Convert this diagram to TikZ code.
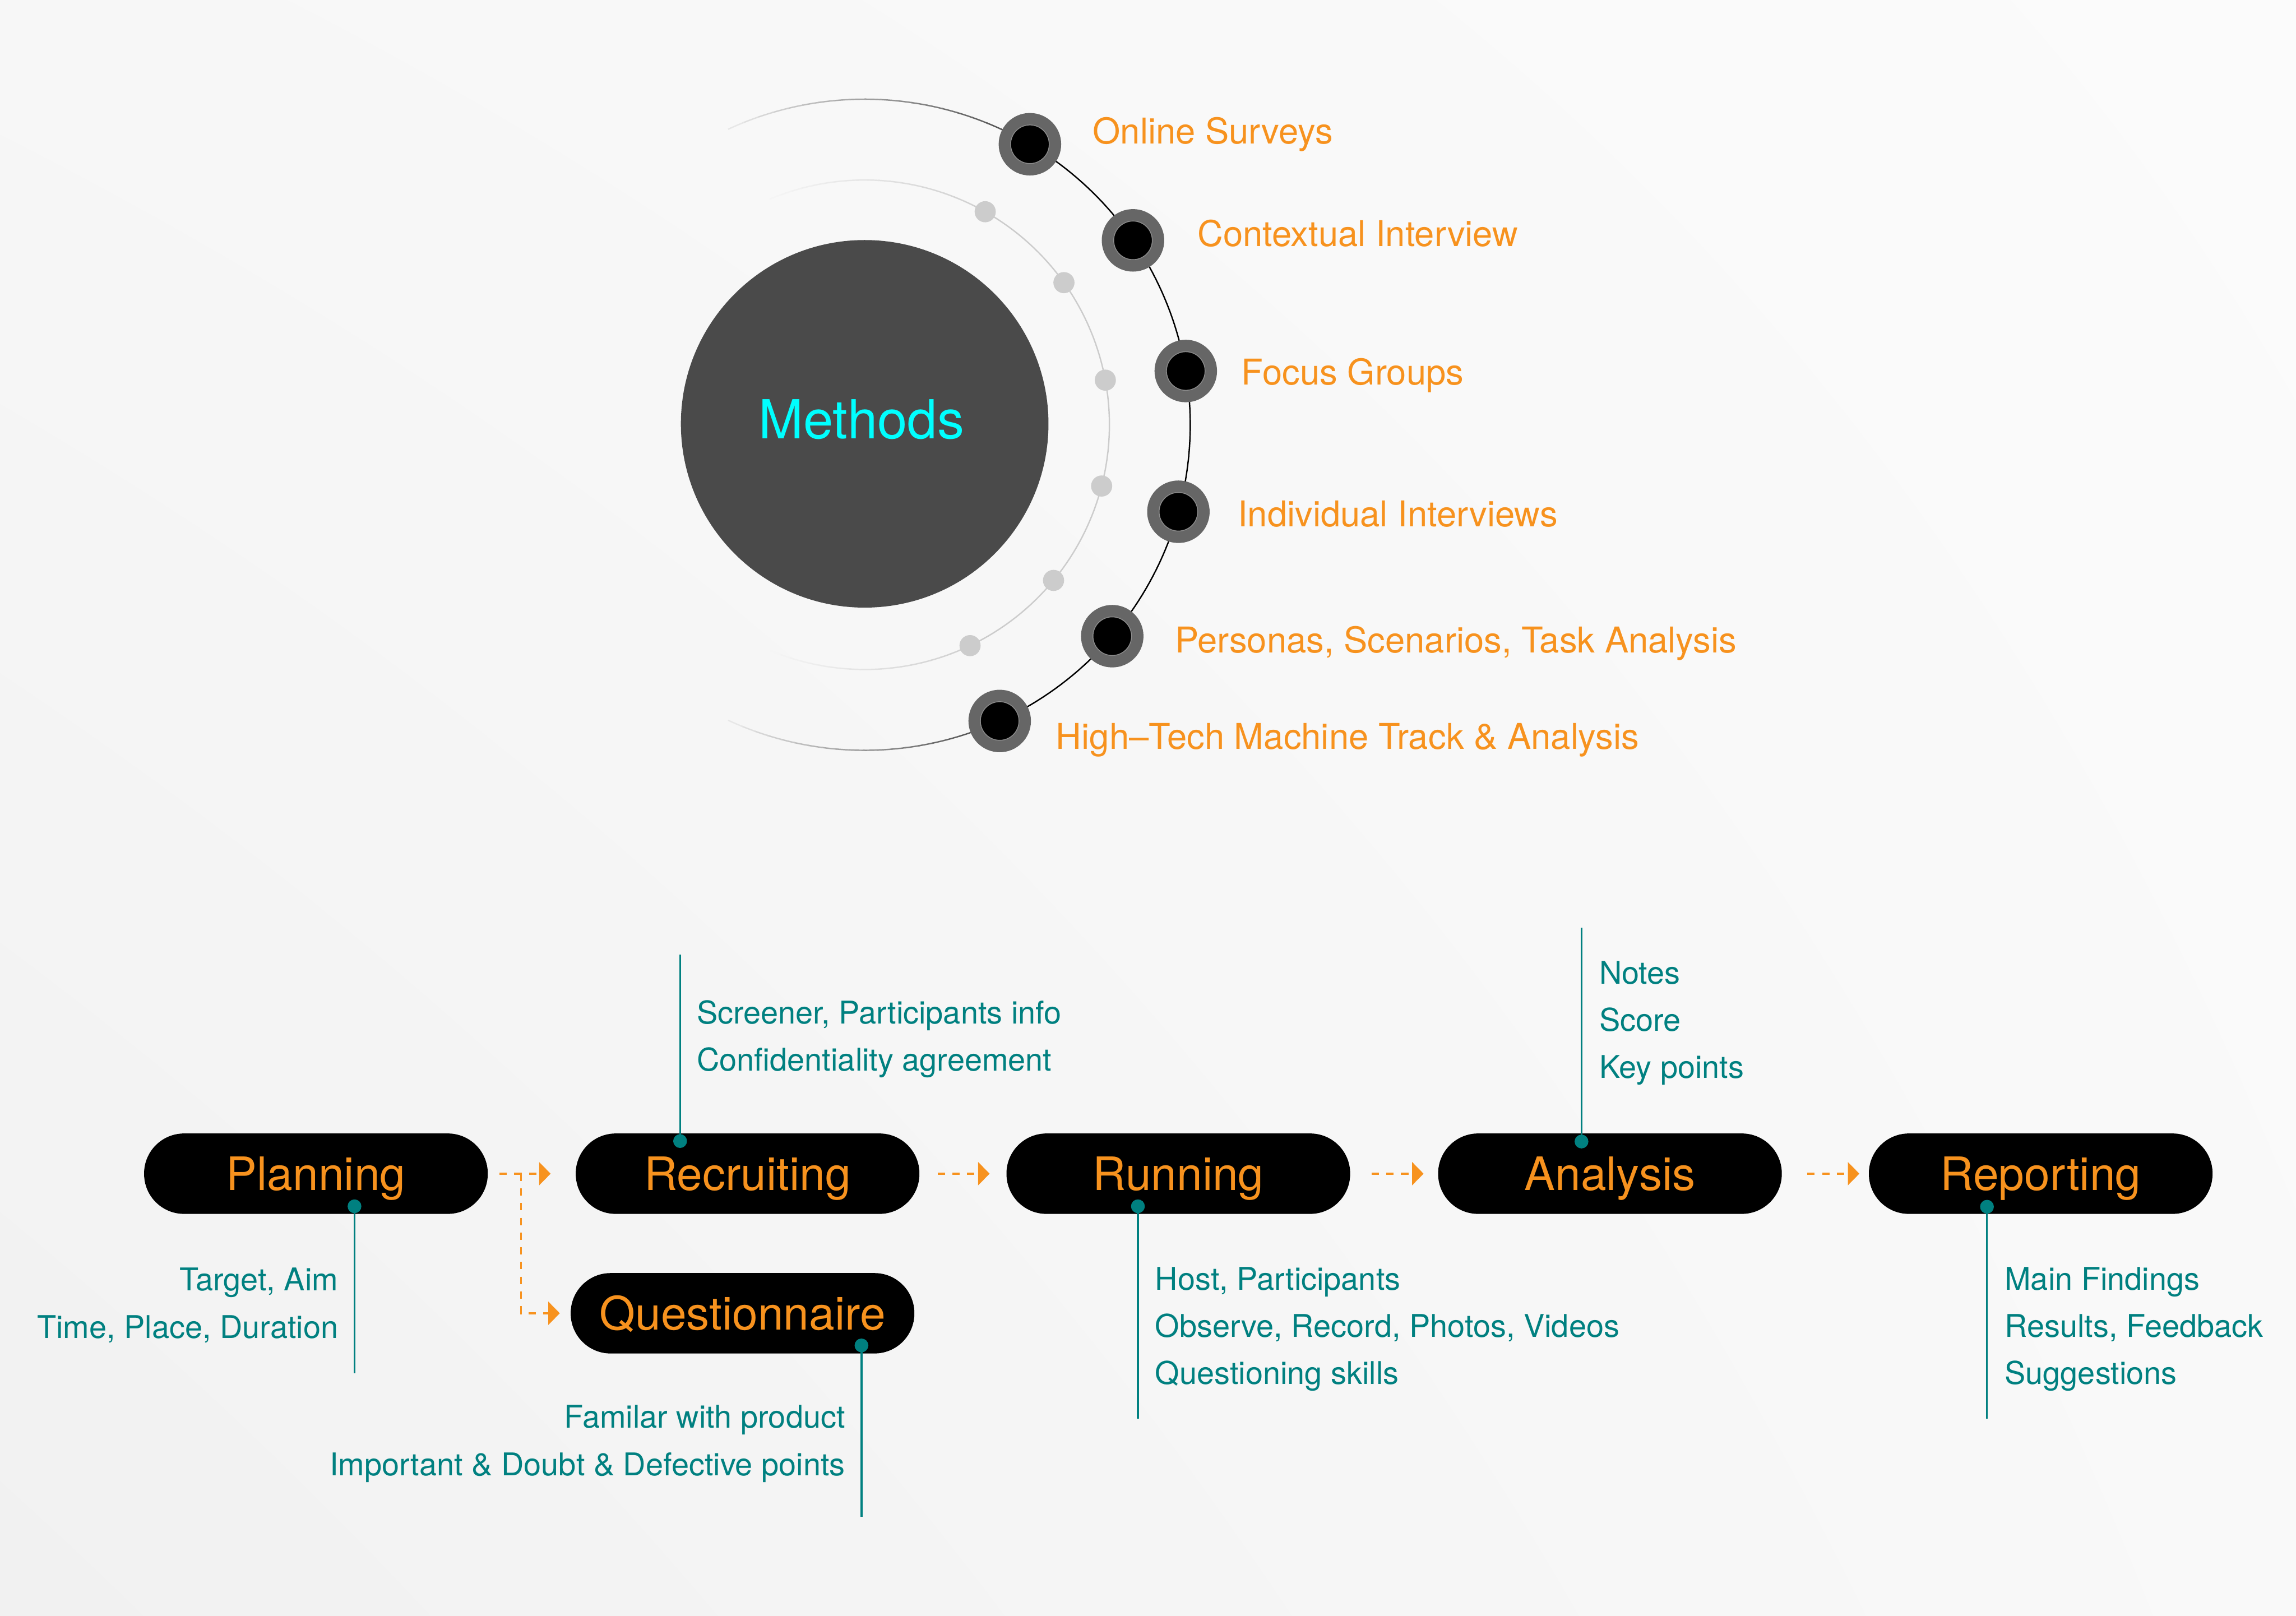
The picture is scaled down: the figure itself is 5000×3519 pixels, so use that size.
\documentclass[tikz,border=0pt]{standalone}
\usepackage{fontspec}
\setmainfont{TeX Gyre Heros}
\usetikzlibrary{arrows.meta,shadings}
\definecolor{orng}{RGB}{247,146,30}
\definecolor{tealc}{RGB}{0,128,128}
\definecolor{mcyan}{RGB}{0,255,255}
\definecolor{discgray}{RGB}{74,74,74}
\definecolor{ringgray}{RGB}{102,102,102}
\definecolor{coreedge}{RGB}{140,140,140}
\definecolor{dotgray}{RGB}{204,204,204}
\definecolor{bgA}{RGB}{241,241,241}
\definecolor{bgB}{RGB}{247,247,247}
\definecolor{bgC}{RGB}{251,251,251}
\definecolor{bgD}{RGB}{249,249,249}
\begin{document}
\begin{tikzpicture}[x=0.01cm,y=-0.01cm,
  stage/.style={rectangle, rounded corners=0.87cm, fill=black, minimum width=7.48cm,
    minimum height=1.75cm, inner sep=0pt, text=orng, text height=20.5pt, text depth=0pt,
    font=\fontsize{28.5}{34}\selectfont},
  ring/.style={circle, fill=ringgray, minimum size=1.36cm, inner sep=0pt},
  core/.style={circle, fill=black, draw=coreedge, line width=0.5pt, minimum size=0.84cm, inner sep=0pt},
  gdot/.style={circle, fill=dotgray, minimum size=0.46cm, inner sep=0pt},
  lbl/.style={anchor=base west, inner sep=0pt, text=orng, font=\fontsize{22}{26}\selectfont},
  flow/.style={draw=orng, line width=1.14pt, dash pattern=on 0.16cm off 0.16cm,
    -{Triangle[length=0.25cm, width=0.5cm]}},
  tdot/.style={circle, fill=tealc, minimum size=0.3cm, inner sep=0pt},
  tline/.style={draw=tealc, line width=1.2pt},
  ttext/.style={inner sep=0pt, text=tealc, font=\fontsize{19.4}{23}\selectfont}
]
% background
\shade[lower left=bgA, upper left=bgB, upper right=bgC, lower right=bgD] (0,0) rectangle (5000,3519);
\useasboundingbox (0,0) rectangle (5000,3519);

% inner grey arc with fading ends
\draw[dotgray, line width=0.85pt] plot[domain=-64.5:60.5, samples=80] ({1883+533*cos(\x)},{925-533*sin(\x)});
\foreach \i in {0,...,19} {
  \pgfmathsetmacro{\aa}{60.5+\i*2.6}
  \pgfmathsetmacro{\bb}{60.5+(\i+1)*2.6+0.3}
  \pgfmathsetmacro{\pp}{19-0.8*\i}
  \draw[black!\pp, line width=0.85pt] plot[domain=\aa:\bb, samples=4] ({1883+533*cos(\x)},{925-533*sin(\x)});
  \pgfmathsetmacro{\cc}{-64.5-\i*2.4}
  \pgfmathsetmacro{\dd}{-64.5-(\i+1)*2.4-0.3}
  \draw[black!\pp, line width=0.85pt] plot[domain=\dd:\cc, samples=4] ({1883+533*cos(\x)},{925-533*sin(\x)});
}

% outer black arc with fading ends
\draw[black, line width=0.85pt] plot[domain=-65.5:59.5, samples=100] ({1883+709*cos(\x)},{925-709*sin(\x)});
\foreach \i in {0,...,19} {
  \pgfmathsetmacro{\aa}{59.5+\i*2.75}
  \pgfmathsetmacro{\bb}{59.5+(\i+1)*2.75+0.3}
  \pgfmathsetmacro{\pp}{72-3.3*\i}
  \draw[black!\pp, line width=0.85pt] plot[domain=\aa:\bb, samples=4] ({1883+709*cos(\x)},{925-709*sin(\x)});
  \pgfmathsetmacro{\cc}{-65.5-\i*2.45}
  \pgfmathsetmacro{\dd}{-65.5-(\i+1)*2.45-0.3}
  \draw[black!\pp, line width=0.85pt] plot[domain=\dd:\cc, samples=4] ({1883+709*cos(\x)},{925-709*sin(\x)});
}

% central disc
\node[circle, fill=discgray, minimum size=8.0cm, inner sep=0pt] (methods) at (1883,923) {};
\node[anchor=base, inner sep=0pt, text=mcyan, font=\fontsize{33.3}{40}\selectfont] (mtext) at (1876,955) {Methods};

% grey dots on inner arc
\foreach \a/\n in {60.5/d1, 35.5/d2, 10.5/d3, -14.5/d4, -39.5/d5, -64.5/d6} {
  \node[gdot] (\n) at ({1883+533*cos(\a)},{925-533*sin(\a)}) {};
}

% method nodes on outer arc
\foreach \a/\n in {59.5/m1, 34.5/m2, 9.5/m3, -15.5/m4, -40.5/m5, -65.5/m6} {
  \node[ring] (\n) at ({1883+709*cos(\a)},{925-709*sin(\a)}) {};
  \node[core] (\n c) at (\n) {};
}

% method labels
\node[lbl] (l1) at (2379,313) {Online Surveys};
\node[lbl] (l2) at (2607,537) {Contextual Interview};
\node[lbl] (l3) at (2703,838) {Focus Groups};
\node[lbl] (l4) at (2695,1147) {Individual Interviews};
\node[lbl] (l5) at (2558,1422) {Personas, Scenarios, Task Analysis};
\node[lbl] (l6) at (2299,1631) {High–Tech Machine Track \& Analysis};

% process stages
\node[stage] (plan) at (688,2556) {Planning};
\node[stage] (recr) at (1628,2556) {Recruiting};
\node[stage] (ques) at (1617,2860) {Questionnaire};
\node[stage] (runn) at (2566,2556) {Running};
\node[stage] (anal) at (3506,2556) {Analysis};
\node[stage] (repo) at (4444,2556) {Reporting};

% flow arrows
\draw[flow, shorten <=0.25cm, shorten >=0.54cm] (plan.east) -- (recr.west);
\coordinate (br) at (1135,2556);
\draw[flow, shorten >=0.23cm] (br) |- (ques.west);
\draw[flow, shorten <=0.39cm, shorten >=0.36cm] (recr.east) -- (runn.west);
\draw[flow, shorten <=0.46cm, shorten >=0.31cm] (runn.east) -- (anal.west);
\draw[flow, shorten <=0.55cm, shorten >=0.20cm] (anal.east) -- (repo.west);

% Planning notes
\coordinate (pe) at (772,2991);
\draw[tline] (772,2627) -- (pe);
\node[tdot] (pd) at (772,2627) {};
\node[ttext, anchor=base east] (pt1) at (737,2811) {Target, Aim};
\node[ttext, anchor=base east] (pt2) at (737,2914) {Time, Place, Duration};

% Recruiting notes
\coordinate (rs) at (1481,2079);
\node[tdot] (rd) at (1481,2485) {};
\draw[tline] (rs) -- (rd.center);
\node[ttext, anchor=base west] (rt1) at (1517,2229) {Screener, Participants info};
\node[ttext, anchor=base west] (rt2) at (1517,2332) {Confidentiality agreement};

% Questionnaire notes
\coordinate (qe) at (1876,3303);
\node[tdot] (qd) at (1876,2930) {};
\draw[tline] (qd.center) -- (qe);
\node[ttext, anchor=base east] (qt1) at (1841,3110) {Familar with product};
\node[ttext, anchor=base east] (qt2) at (1841,3213) {Important \& Doubt \& Defective points};

% Running notes
\coordinate (ue) at (2478,3090);
\node[tdot] (ud) at (2478,2627) {};
\draw[tline] (ud.center) -- (ue);
\node[ttext, anchor=base west] (ut1) at (2515,2810) {Host, Participants};
\node[ttext, anchor=base west] (ut2) at (2515,2912) {Observe, Record, Photos, Videos};
\node[ttext, anchor=base west] (ut3) at (2515,3014) {Questioning skills};

% Analysis notes
\coordinate (as) at (3444,2020);
\node[tdot] (ad) at (3444,2486) {};
\draw[tline] (as) -- (ad.center);
\node[ttext, anchor=base west] (at1) at (3482,2143) {Notes};
\node[ttext, anchor=base west] (at2) at (3482,2245) {Score};
\node[ttext, anchor=base west] (at3) at (3482,2348) {Key points};

% Reporting notes
\coordinate (oe) at (4327,3090);
\node[tdot] (od) at (4327,2628) {};
\draw[tline] (od.center) -- (oe);
\node[ttext, anchor=base west] (ot1) at (4365,2810) {Main Findings};
\node[ttext, anchor=base west] (ot2) at (4365,2912) {Results, Feedback};
\node[ttext, anchor=base west] (ot3) at (4365,3014) {Suggestions};
\end{tikzpicture}
\end{document}
